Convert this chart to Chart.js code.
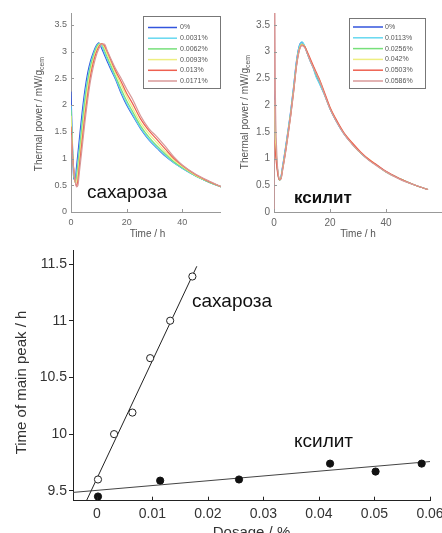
<!DOCTYPE html>
<html>
<head>
<meta charset="utf-8">
<script src="https://cdn.jsdelivr.net/npm/chart.js@4.4.1/dist/chart.umd.min.js"></script>
<style>
  html, body { margin: 0; padding: 0; background: #fff; }
  #page { position: relative; width: 442px; height: 533px; overflow: hidden; background: #fff; }
  .box { position: absolute; overflow: hidden; }
  canvas { display: block; }
</style>
</head>
<body>
<div id="page">
  <div class="box" style="left:0;top:0;width:221px;height:240px"><canvas id="sucrose" width="226" height="240"></canvas></div>
  <div class="box" style="left:221px;top:0;width:221px;height:240px"><canvas id="xylitol" width="221" height="240"></canvas></div>
  <div class="box" style="left:0;top:240px;width:442px;height:293px"><canvas id="peaks" width="470" height="302"></canvas></div>
</div>
<script>
// ---- data: top left (sucrose), thermal power vs time ----
var sucTimes = [0, 0.5, 1, 1.5, 2, 2.5, 3, 4, 5, 6, 7, 8, 9, 10, 11, 12, 13, 14, 16, 18, 20, 22, 25, 28, 31, 34, 37, 40, 45, 50, 55];
var sucLabels = ['0%', '0.0031%', '0.0062%', '0.0093%', '0.013%', '0.0171%'];
var suc0    = [2.25, 1.3, 0.62, 0.6, 0.85, 1.1, 1.36, 1.86, 2.28, 2.6, 2.82, 2.98, 3.1, 3.16, 3.06, 2.94, 2.82, 2.7, 2.48, 2.22, 2.0, 1.82, 1.56, 1.35, 1.19, 1.04, 0.92, 0.82, 0.67, 0.55, 0.45];
var suc0031 = [2.0, 1.25, 0.72, 0.56, 0.72, 0.96, 1.2, 1.7, 2.16, 2.5, 2.76, 2.94, 3.08, 3.15, 3.11, 2.98, 2.86, 2.74, 2.5, 2.25, 2.03, 1.84, 1.57, 1.36, 1.2, 1.05, 0.92, 0.82, 0.67, 0.55, 0.45];
var suc0062 = [1.9, 1.2, 0.74, 0.55, 0.64, 0.86, 1.1, 1.6, 2.06, 2.43, 2.71, 2.9, 3.05, 3.14, 3.14, 3.03, 2.9, 2.78, 2.54, 2.3, 2.08, 1.89, 1.61, 1.4, 1.23, 1.08, 0.94, 0.83, 0.67, 0.55, 0.45];
var suc0093 = [1.8, 1.15, 0.76, 0.55, 0.56, 0.74, 0.98, 1.46, 1.93, 2.33, 2.63, 2.85, 3.01, 3.12, 3.15, 3.07, 2.95, 2.83, 2.6, 2.38, 2.16, 1.96, 1.67, 1.46, 1.29, 1.12, 0.97, 0.85, 0.68, 0.56, 0.45];
var suc013  = [1.6, 1.1, 0.78, 0.58, 0.48, 0.6, 0.86, 1.33, 1.8, 2.2, 2.54, 2.79, 2.97, 3.09, 3.15, 3.11, 3.0, 2.88, 2.64, 2.44, 2.22, 2.04, 1.74, 1.52, 1.35, 1.17, 1.0, 0.87, 0.69, 0.56, 0.45];
var suc0171 = [1.45, 1.05, 0.8, 0.6, 0.47, 0.5, 0.74, 1.2, 1.68, 2.1, 2.45, 2.71, 2.91, 3.05, 3.14, 3.14, 3.02, 2.9, 2.68, 2.5, 2.3, 2.12, 1.8, 1.56, 1.4, 1.22, 1.03, 0.88, 0.7, 0.57, 0.45];

// ---- data: top right (xylitol) ----
var xylTimes = [0, 0.15, 0.5, 1, 1.5, 2, 2.5, 3, 4, 5, 6, 7, 8, 9, 10, 11, 12, 13, 14, 15, 16, 17, 18, 20, 22, 25, 28, 31, 34, 37, 40, 45, 50, 55];
var xylLabels = ['0%', '0.0113%', '0.0256%', '0.042%', '0.0503%', '0.0586%'];
var xyl0    = [2.3, 2.1, 1.4, 0.95, 0.7, 0.6, 0.66, 0.83, 1.16, 1.52, 1.9, 2.34, 2.81, 3.1, 3.17, 3.09, 2.95, 2.82, 2.7, 2.55, 2.44, 2.32, 2.2, 1.93, 1.72, 1.46, 1.27, 1.1, 0.97, 0.86, 0.75, 0.62, 0.51, 0.42];
var xyl0113 = [1.9, 1.75, 1.3, 0.9, 0.68, 0.59, 0.65, 0.81, 1.14, 1.5, 1.88, 2.32, 2.79, 3.09, 3.18, 3.1, 2.95, 2.81, 2.69, 2.53, 2.42, 2.31, 2.19, 1.93, 1.72, 1.46, 1.27, 1.1, 0.97, 0.86, 0.75, 0.62, 0.51, 0.42];
var xyl0256 = [2.0, 1.85, 1.32, 0.92, 0.7, 0.6, 0.64, 0.79, 1.11, 1.47, 1.85, 2.28, 2.75, 3.05, 3.14, 3.09, 2.96, 2.83, 2.71, 2.58, 2.47, 2.35, 2.21, 1.94, 1.73, 1.47, 1.27, 1.1, 0.97, 0.86, 0.75, 0.62, 0.51, 0.42];
var xyl042  = [2.1, 1.9, 1.35, 0.93, 0.7, 0.6, 0.63, 0.78, 1.1, 1.46, 1.84, 2.27, 2.74, 3.04, 3.13, 3.09, 2.97, 2.84, 2.72, 2.61, 2.5, 2.37, 2.22, 1.95, 1.74, 1.47, 1.28, 1.11, 0.98, 0.86, 0.75, 0.62, 0.51, 0.42];
var xyl0503 = [1.35, 1.3, 1.1, 0.85, 0.66, 0.6, 0.62, 0.77, 1.08, 1.44, 1.82, 2.25, 2.72, 3.02, 3.12, 3.09, 2.98, 2.86, 2.74, 2.62, 2.51, 2.38, 2.24, 1.96, 1.75, 1.48, 1.29, 1.12, 0.98, 0.87, 0.76, 0.62, 0.51, 0.42];
var xyl0586 = [0, 5.0, 2.2, 1.1, 0.72, 0.61, 0.62, 0.76, 1.07, 1.43, 1.81, 2.24, 2.71, 3.01, 3.11, 3.07, 2.95, 2.82, 2.7, 2.59, 2.48, 2.35, 2.2, 1.93, 1.72, 1.46, 1.26, 1.1, 0.96, 0.85, 0.75, 0.61, 0.51, 0.42];

var powerTicks = [0, 0.5, 1, 1.5, 2, 2.5, 3, 3.5];
var timeTicks = [0, 20, 40];
var seriesColors = ['#3355dd', '#66d8f0', '#77e07a', '#eeee80', '#ee6050', '#d89898'];

// ---- data: bottom, time of main peak vs dosage ----
var sucDose = [0.0002, 0.0031, 0.0064, 0.0096, 0.0132, 0.0172];
var sucPeak = [9.6, 10.0, 10.19, 10.67, 11.0, 11.39];
var xylDose = [0.0002, 0.0114, 0.0256, 0.042, 0.0502, 0.0585];
var xylPeak = [9.45, 9.59, 9.6, 9.74, 9.67, 9.74];
var sucFitX = [-0.0019, 0.018];
var sucFitY = [9.41, 11.48];
var xylFitX = [-0.0043, 0.06];
var xylFitY = [9.486, 9.758];
var doseTicks = [0, 0.01, 0.02, 0.03, 0.04, 0.05, 0.06];
var doseTickLabels = ['0', '0.01', '0.02', '0.03', '0.04', '0.05', '0.06'];
var peakTicks = [9.5, 10, 10.5, 11, 11.5];

var FONT = "'Liberation Sans', Arial, sans-serif";

function points(xs, ys) {
    return xs.map(function (x, i) { return { x: x, y: ys[i] }; });
}

// text drawn on top: labels, rotated axis titles with subscript
var notesPlugin = {
    id: 'notes',
    afterDraw: function (chart, args, opts) {
        var ctx = chart.ctx;
        (opts.items || []).forEach(function (it) {
            ctx.save();
            ctx.translate(it.x, it.y);
            if (it.rotate) ctx.rotate(it.rotate * Math.PI / 180);
            ctx.fillStyle = it.color || '#000';
            ctx.textBaseline = it.baseline || 'alphabetic';
            ctx.textAlign = 'left';
            ctx.font = it.font;
            var w = ctx.measureText(it.text).width;
            var sw = 0;
            if (it.sub) {
                ctx.font = it.subFont;
                sw = ctx.measureText(it.sub).width;
                ctx.font = it.font;
            }
            var x0 = it.center ? -(w + sw) / 2 : 0;
            ctx.fillText(it.text, x0, 0);
            if (it.sub) {
                ctx.font = it.subFont;
                ctx.fillText(it.sub, x0 + w, it.subShift || 3);
            }
            ctx.restore();
        });
    }
};

// small tick marks pointing into the plot
var inTicksPlugin = {
    id: 'inTicks',
    afterDraw: function (chart, args, opts) {
        var ctx = chart.ctx, a = chart.chartArea, s = chart.scales;
        ctx.save();
        ctx.strokeStyle = opts.color || '#888';
        ctx.lineWidth = 1;
        if (opts.x) {
            s.x.ticks.forEach(function (t) {
                var p = Math.round(s.x.getPixelForValue(t.value)) + 0.5;
                ctx.beginPath(); ctx.moveTo(p, a.bottom); ctx.lineTo(p, a.bottom - opts.x); ctx.stroke();
            });
        }
        if (opts.y) {
            s.y.ticks.forEach(function (t) {
                var p = Math.round(s.y.getPixelForValue(t.value)) + 0.5;
                ctx.beginPath(); ctx.moveTo(a.left, p); ctx.lineTo(a.left + opts.y, p); ctx.stroke();
            });
        }
        ctx.restore();
    }
};

// legend in a framed box, like the original
var boxLegendPlugin = {
    id: 'boxLegend',
    afterDraw: function (chart, args, o) {
        if (!o.width) return;
        var ctx = chart.ctx;
        ctx.save();
        ctx.fillStyle = '#fff';
        ctx.fillRect(o.left, o.top, o.width, o.height);
        ctx.strokeStyle = '#777';
        ctx.lineWidth = 1;
        ctx.strokeRect(o.left + 0.5, o.top + 0.5, o.width, o.height);
        ctx.font = o.font;
        ctx.textBaseline = 'middle';
        chart.data.datasets.forEach(function (ds, i) {
            var y = o.top + o.firstRow + i * o.rowStep;
            ctx.strokeStyle = ds.borderColor;
            ctx.lineWidth = 1.5;
            ctx.beginPath();
            ctx.moveTo(o.left + o.lineStart, y);
            ctx.lineTo(o.left + o.lineEnd, y);
            ctx.stroke();
            ctx.fillStyle = '#555';
            ctx.fillText(ds.label, o.left + o.textStart, y);
        });
        ctx.restore();
    }
};

function powerChart(id, times, labels, series, opt) {
    var datasets = series.map(function (vals, i) {
        return {
            label: labels[i],
            data: points(times, vals),
            borderColor: seriesColors[i],
            borderWidth: 1.2,
            pointRadius: 0,
            cubicInterpolationMode: 'monotone',
            fill: false,
            order: series.length - i   // last series on top, like the original plot
        };
    });
    return new Chart(document.getElementById(id), {
        type: 'line',
        data: { datasets: datasets },
        plugins: [notesPlugin, inTicksPlugin, boxLegendPlugin],
        options: {
            responsive: false,
            animation: false,
            layout: { padding: { top: 13, right: opt.padRight, left: 0, bottom: 0 } },
            scales: {
                x: {
                    type: 'linear', min: 0, max: opt.xMax,
                    afterBuildTicks: function (axis) { axis.ticks = timeTicks.map(function (v) { return { value: v }; }); },
                    afterFit: function (axis) { axis.height = 28; },
                    grid: { display: false, drawTicks: false },
                    border: { display: true, color: '#999' },
                    ticks: { padding: 5, color: '#666', font: { family: FONT, size: opt.tickSize }, maxRotation: 0,
                        callback: function (v) { return String(v); } },
                    title: { display: true, text: 'Time / h', color: '#555', font: { family: FONT, size: 10 }, padding: 0 }
                },
                y: {
                    type: 'linear', min: 0, max: 3.72,
                    afterBuildTicks: function (axis) { axis.ticks = powerTicks.map(function (v) { return { value: v }; }); },
                    afterFit: function (axis) { axis.width = opt.yWidth; },
                    grid: { display: false, drawTicks: false },
                    border: { display: true, color: '#999' },
                    ticks: { padding: 4, color: '#666', font: { family: FONT, size: opt.tickSize },
                        callback: function (v) { return String(v); } }
                }
            },
            plugins: {
                legend: { display: false },
                tooltip: { enabled: false },
                inTicks: { x: 3, y: 3, color: '#999' },
                boxLegend: opt.legend,
                notes: { items: opt.notes }
            }
        }
    });
}

powerChart('sucrose', sucTimes, sucLabels, [suc0, suc0031, suc0062, suc0093, suc013, suc0171], {
    xMax: 55, padRight: 2, yWidth: 71, tickSize: 9,
    legend: { left: 143, top: 16, width: 77, height: 72, firstRow: 11.5, rowStep: 10.7,
              lineStart: 5, lineEnd: 34, textStart: 37, font: '7px ' + FONT },
    notes: [
        { text: 'Thermal power / mW/g', sub: 'cem', x: 39, y: 114, rotate: -90, center: true,
          baseline: 'middle', font: '10px ' + FONT, subFont: '7px ' + FONT, subShift: 3, color: '#555' },
        { text: 'сахароза', x: 87, y: 198, font: '19px ' + FONT, color: '#111' }
    ]
});

powerChart('xylitol', xylTimes, xylLabels, [xyl0, xyl0113, xyl0256, xyl042, xyl0503, xyl0586], {
    xMax: 60, padRight: 0, yWidth: 53, tickSize: 10,
    legend: { left: 128, top: 18, width: 76, height: 70, firstRow: 9, rowStep: 10.8,
              lineStart: 4, lineEnd: 34, textStart: 36, font: '7px ' + FONT },
    notes: [
        { text: 'Thermal power / mW/g', sub: 'cem', x: 24, y: 112, rotate: -90, center: true,
          baseline: 'middle', font: '10px ' + FONT, subFont: '7px ' + FONT, subShift: 3, color: '#555' },
        { text: 'ксилит', x: 73, y: 202.5, font: 'bold 17px ' + FONT, color: '#111' }
    ]
});

new Chart(document.getElementById('peaks'), {
    type: 'scatter',
    data: {
        datasets: [
            { label: 'сахароза', data: points(sucDose, sucPeak), pointRadius: 3.6, pointBackgroundColor: '#fff',
              pointBorderColor: '#222', pointBorderWidth: 1, showLine: false },
            { label: 'ксилит', data: points(xylDose, xylPeak), pointRadius: 3.6, pointBackgroundColor: '#111',
              pointBorderColor: '#111', pointBorderWidth: 1, showLine: false },
            { label: 'fit сахароза', data: points(sucFitX, sucFitY), showLine: true, pointRadius: 0,
              borderColor: '#222', borderWidth: 1 },
            { label: 'fit ксилит', data: points(xylFitX, xylFitY), showLine: true, pointRadius: 0,
              borderColor: '#444', borderWidth: 1 }
        ]
    },
    plugins: [notesPlugin, inTicksPlugin],
    options: {
        responsive: false,
        animation: false,
        layout: { padding: { top: 7, right: 40, left: 0, bottom: 0 } },
        scales: {
            x: {
                type: 'linear', min: -0.0043, max: 0.06,
                afterBuildTicks: function (axis) { axis.ticks = doseTicks.map(function (v) { return { value: v }; }); },
                afterFit: function (axis) { axis.height = 41.3; },
                grid: { display: false, drawTicks: false },
                border: { display: true, color: '#222' },
                ticks: { padding: 5, color: '#333', font: { family: FONT, size: 14 }, maxRotation: 0,
                    callback: function (v, i) { return doseTickLabels[i]; } },
                title: { display: true, text: 'Dosage / %', color: '#333', font: { family: FONT, size: 15 }, padding: 0 }
            },
            y: {
                type: 'linear', min: 9.413, max: 11.62,
                afterBuildTicks: function (axis) { axis.ticks = peakTicks.map(function (v) { return { value: v }; }); },
                afterFit: function (axis) { axis.width = 73; },
                grid: { display: true, drawOnChartArea: false, drawTicks: true, tickLength: 4, color: '#222' },
                border: { display: true, color: '#222' },
                ticks: { padding: 2, color: '#333', font: { family: FONT, size: 14 },
                    callback: function (v) { return String(v); } }
            }
        },
        plugins: {
            legend: { display: false },
            tooltip: { enabled: false },
            inTicks: { x: 4, color: '#222' },
            notes: {
                items: [
                    { text: 'Time of main peak / h', x: 21.5, y: 142.5, rotate: -90, center: true,
                      baseline: 'middle', font: '15px ' + FONT, color: '#333' },
                    { text: 'сахароза', x: 192, y: 66.7, font: '19px ' + FONT, color: '#111' },
                    { text: 'ксилит', x: 294, y: 207, font: '19px ' + FONT, color: '#111' }
                ]
            }
        }
    }
});
</script>
</body>
</html>
